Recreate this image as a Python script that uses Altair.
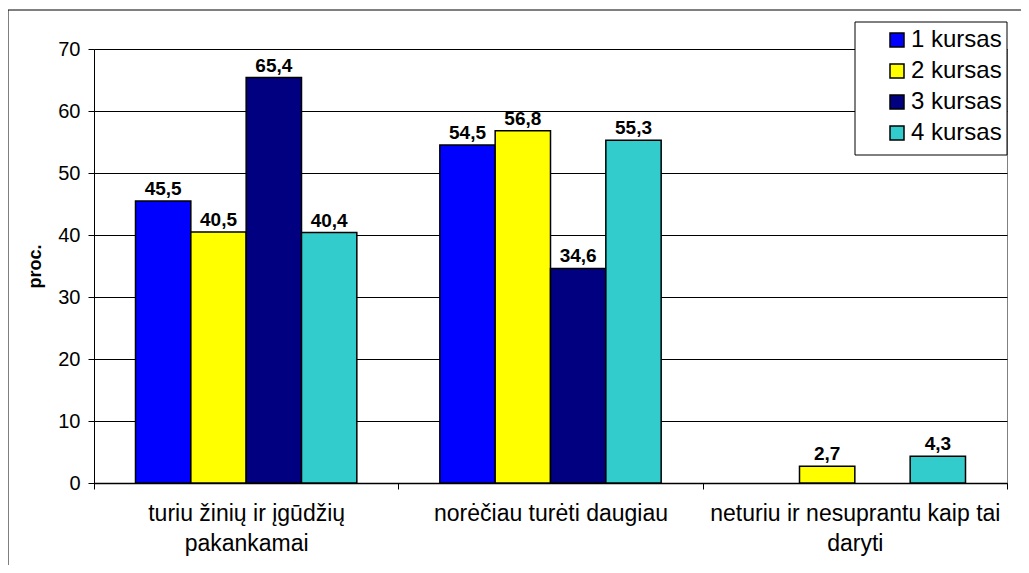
import altair as alt
import pandas as pd

categories = [
    "turiu žinių ir įgūdžių\npakankamai",
    "norėčiau turėti daugiau",
    "neturiu ir nesuprantu kaip tai\ndaryti",
]
series = ["1 kursas", "2 kursas", "3 kursas", "4 kursas"]
values_1 = [45.5, 54.5, None]
values_2 = [40.5, 56.8, 2.7]
values_3 = [65.4, 34.6, None]
values_4 = [40.4, 55.3, 4.3]
colors = ["#0000FF", "#FFFF00", "#000080", "#33CCCC"]
y_ticks = [0, 10, 20, 30, 40, 50, 60, 70]

rows = []
for s, vals in zip(series, [values_1, values_2, values_3, values_4]):
    for c, v in zip(categories, vals):
        if v is not None:
            rows.append({"cat": c, "series": s, "value": v})
df = pd.DataFrame(rows)

FONT = "Liberation Sans"

x_enc = alt.X(
    "cat:N",
    sort=categories,
    scale=alt.Scale(paddingInner=0, paddingOuter=0),
    axis=alt.Axis(
        title=None,
        labelAngle=0,
        labelExpr='split(datum.label, "\\n")',
        tickBand="extent",
        tickSize=6,
        labelFontSize=23,
        labelLineHeight=30,
        labelPadding=13,
        labelBaseline="top",
        labelLimit=400,
        domainWidth=1.5,
        grid=False,
    ),
)
xo_enc = alt.XOffset(
    "series:N", sort=series, scale=alt.Scale(paddingInner=0, paddingOuter=0.75)
)
y_enc = alt.Y(
    "value:Q",
    scale=alt.Scale(domain=[0, 70], nice=False),
    axis=alt.Axis(
        title="proc.",
        values=y_ticks,
        tickSize=6,
        labelFontSize=20,
        labelPadding=8,
        titleFontSize=18,
        titleFontWeight="bold",
        titlePadding=13,
        grid=True,
        gridColor="black",
        gridWidth=1,
    ),
)

bars = (
    alt.Chart(df)
    .mark_bar(stroke="black", strokeWidth=1.5)
    .encode(
        x=x_enc,
        xOffset=xo_enc,
        y=y_enc,
        color=alt.Color(
            "series:N",
            scale=alt.Scale(domain=series, range=colors),
            legend=alt.Legend(
                title=None,
                orient="none",
                legendX=791,
                legendY=-21,
                symbolType="square",
                symbolSize=196,
                symbolStrokeColor="black",
                symbolStrokeWidth=1.5,
                labelFontSize=24,
                labelFont=FONT,
                labelColor="black",
                labelOffset=2,
                rowPadding=7,
                padding=0,
            ),
        ),
    )
)

labels = (
    alt.Chart(df)
    .transform_calculate(label="replace(format(datum.value, '.1f'), '.', ',')")
    .mark_text(dy=-6, baseline="alphabetic", fontWeight="bold", fontSize=19, font=FONT, color="black")
    .encode(x=x_enc, xOffset=xo_enc, y=y_enc, text="label:N")
)

frame_df = pd.DataFrame({"k": [0]})
outer = (
    alt.Chart(frame_df)
    .mark_rect(fill=None, stroke="black", strokeWidth=1)
    .encode(x=alt.value(-86), x2=alt.value(940), y=alt.value(-39), y2=alt.value(540))
)
legend_box = (
    alt.Chart(frame_df)
    .mark_rect(fill="white", stroke="black", strokeWidth=1)
    .encode(x=alt.value(761), x2=alt.value(913), y=alt.value(-27), y2=alt.value(106))
)

chart = (
    alt.layer(outer, legend_box, bars, labels)
    .properties(
        width=913,
        height=434,
        padding={"left": 86, "top": 41, "right": 14, "bottom": 82},
        autosize=alt.AutoSizeParams(type="none"),
        background="white",
    )
    .configure_view(stroke="#808080", strokeWidth=1)
    .configure_axis(
        labelFont=FONT,
        titleFont=FONT,
        labelColor="black",
        titleColor="black",
        domainColor="black",
        tickColor="black",
    )
)

chart.save("out.html", embed_options={"renderer": "svg", "actions": False})
